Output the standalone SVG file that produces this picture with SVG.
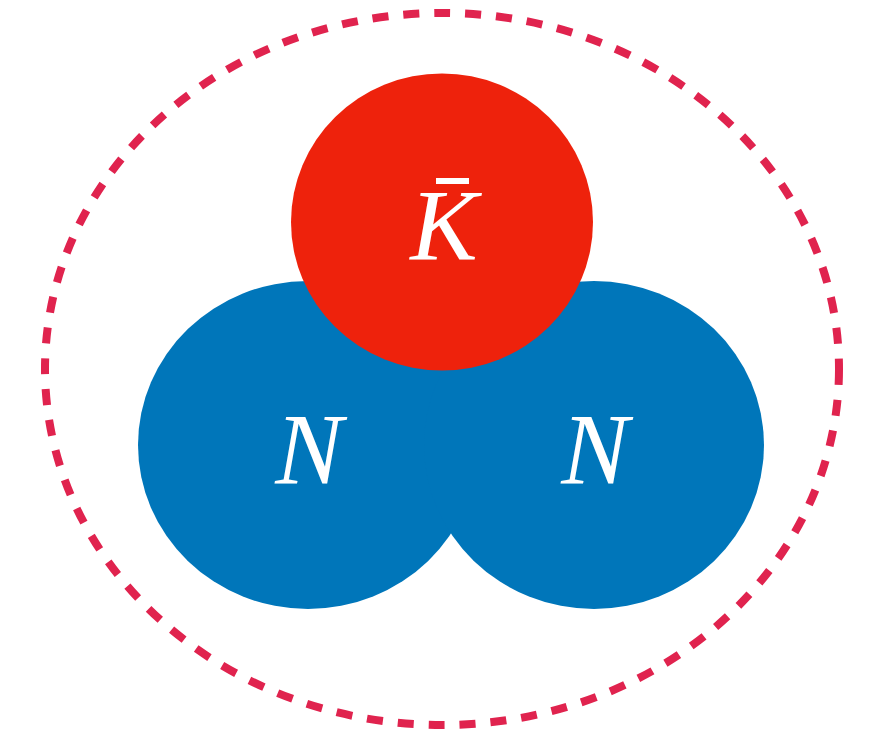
<svg xmlns="http://www.w3.org/2000/svg" width="877" height="738" viewBox="0 0 877 738">
<style>
.lbl{font-family:"Liberation Serif","Times New Roman",Times,serif;font-style:italic;font-size:101px;fill:#ffffff;text-anchor:middle}
.blue{fill:#0076BA}
.red{fill:#EE220C}
</style>
<rect width="877" height="738" fill="#ffffff"/>
<g id="boundary">
<ellipse cx="442" cy="369" rx="397" ry="356" fill="none" stroke="#E0234E" stroke-width="8" stroke-dasharray="16 15"/>
</g>
<g id="connectors"></g>
<g id="N-left">
<ellipse class="blue" cx="308" cy="445" rx="170" ry="164"/>
</g>
<g id="N-right">
<ellipse class="blue" cx="594" cy="445" rx="170" ry="164"/>
</g>
<g id="Kbar">
<ellipse class="red" cx="442" cy="222" rx="151" ry="148.5"/>
<text class="lbl" x="444" y="260">K</text>
<rect x="436" y="178" width="33" height="6" fill="#ffffff"/>
</g>
<text class="lbl" x="309" y="484">N</text>
<text class="lbl" x="595" y="484">N</text>
</svg>
